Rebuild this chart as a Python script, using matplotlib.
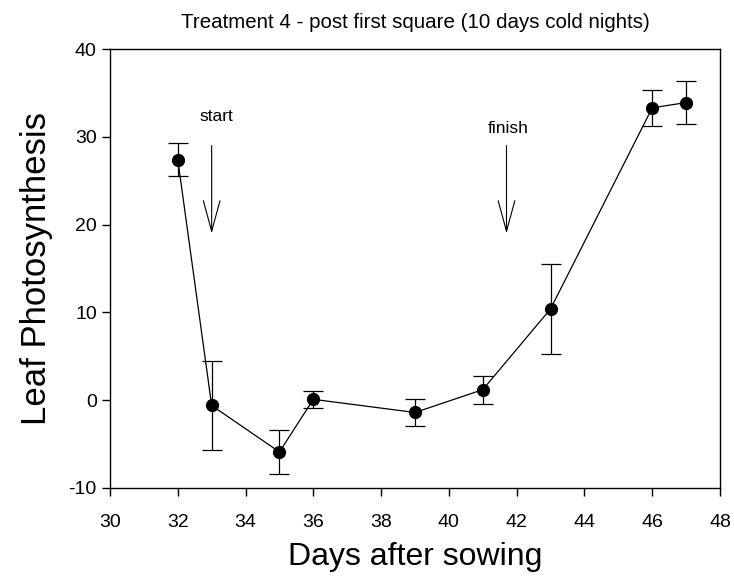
import matplotlib
matplotlib.use("Agg")
import matplotlib.pyplot as plt

plt.rcParams['font.family'] = ['Liberation Sans', 'DejaVu Sans']
plt.rcParams['axes.unicode_minus'] = False

days = [32, 33, 35, 36, 39, 41, 43, 46, 47]
photosynthesis = [27.4, -0.6, -5.9, 0.1, -1.4, 1.2, 10.4, 33.3, 33.9]
errors = [1.85, 5.1, 2.5, 1.0, 1.5, 1.6, 5.1, 2.05, 2.4]

title = "Treatment 4 - post first square (10 days cold nights)"
xlabel = "Days after sowing"
ylabel = "Leaf Photosynthesis"
xticks = list(range(30, 49, 2))
yticks = list(range(-10, 41, 10))

arrow_labels = ["start", "finish"]
arrow_x = [33.0, 41.7]
arrow_top = [29.0, 29.0]
arrow_tip = [19.0, 19.0]
label_y = [32.3, 30.9]
label_x = [33.15, 41.75]

fig = plt.figure(figsize=(7.34, 5.80), dpi=100)
ax = fig.add_axes([110/734, 1-488/580, (720-110)/734, (488-49)/580])

ax.errorbar(days, photosynthesis, yerr=errors, color='black', lw=0.9,
            marker='o', markersize=8.5, capsize=7, elinewidth=0.9, capthick=0.9)

for lab, x, yt, yb, ly, lx in zip(arrow_labels, arrow_x, arrow_top, arrow_tip, label_y, label_x):
    ax.annotate('', xy=(x, yb), xytext=(x, yt),
                arrowprops=dict(arrowstyle='->,head_length=2.2,head_width=0.6',
                                lw=0.8, color='black', shrinkA=0, shrinkB=0))
    ax.text(lx, ly, lab, ha='center', va='center', fontsize=12.5)

ax.set_xlim(30, 48)
ax.set_ylim(-10, 40)
ax.set_xticks(xticks)
ax.set_yticks(yticks)
ax.tick_params(direction='out', length=6, width=1, labelsize=14, top=False, right=False)
ax.tick_params(axis='x', pad=13)
for s in ax.spines.values():
    s.set_linewidth(1)

ax.set_title(title, fontsize=14.8, pad=15)
ax.set_xlabel(xlabel, fontsize=23, labelpad=8)
ax.set_ylabel(ylabel, fontsize=25, labelpad=11)

fig.savefig("out.png", dpi=100)
